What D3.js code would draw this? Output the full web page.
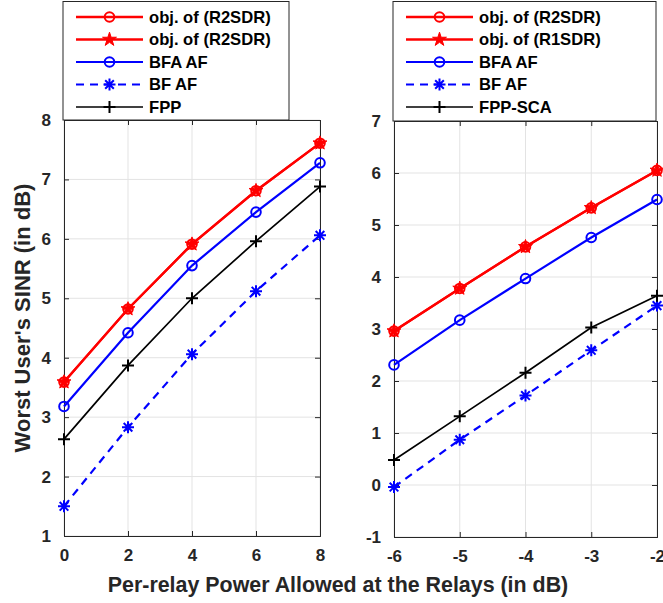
<!DOCTYPE html>
<html><head><meta charset="utf-8">
<script src="https://cdn.jsdelivr.net/npm/d3@7"></script>
<style>body{margin:0;background:#fff}svg{display:block;font-family:"Liberation Sans",Arial,sans-serif;font-weight:bold}</style>
</head><body><svg id="c" width="663" height="603"></svg>
<script>
// ---- data ----
const leftX = [0, 2, 4, 6, 8];
const leftR2SDR = [3.59, 4.82, 5.91, 6.81, 7.61];
const leftR2SDRstar = [3.59, 4.82, 5.91, 6.81, 7.61];
const leftBFA = [3.18, 4.42, 5.55, 6.45, 7.28];
const leftBF = [1.50, 2.83, 4.06, 5.12, 6.06];
const leftFPP = [2.63, 3.87, 5.00, 5.96, 6.88];
const leftYTicks = [1, 2, 3, 4, 5, 6, 7, 8];
const leftLabels = ["obj. of (R2SDR)", "obj. of (R2SDR)", "BFA AF", "BF AF", "FPP"];

const rightX = [-6, -5, -4, -3, -2];
const rightR2SDR = [2.96, 3.78, 4.58, 5.33, 6.05];
const rightR1SDR = [2.96, 3.78, 4.58, 5.33, 6.05];
const rightBFA = [2.31, 3.17, 3.97, 4.76, 5.49];
const rightBF = [-0.04, 0.87, 1.72, 2.59, 3.45];
const rightFPP = [0.48, 1.32, 2.16, 3.03, 3.64];
const rightYTicks = [-1, 0, 1, 2, 3, 4, 5, 6, 7];
const rightLabels = ["obj. of (R2SDR)", "obj. of (R1SDR)", "BFA AF", "BF AF", "FPP-SCA"];

const xLabel = "Per-relay Power Allowed at the Relays (in dB)";
const yLabel = "Worst User's SINR (in dB)";

// ---- styles ----
const styles = [
  {color: "#ff0000", marker: "circle", width: 2.3, dash: null},
  {color: "#ff0000", marker: "star", width: 2.3, dash: null},
  {color: "#0000ff", marker: "circle", width: 2.2, dash: null},
  {color: "#0000ff", marker: "asterisk", width: 2.2, dash: "8,6"},
  {color: "#000000", marker: "plus", width: 1.7, dash: null}
];
const axisColor = "#262626";
const svg = d3.select("#c");
const fmt = d => String(d);

function drawMarker(g, type, cx, cy, color) {
  if (type === "circle") {
    g.append("circle").attr("cx", cx).attr("cy", cy).attr("r", 4.8)
      .attr("fill", "none").attr("stroke", color).attr("stroke-width", 2);
  } else if (type === "star") {
    g.append("path").attr("d", d3.symbol(d3.symbolStar, 60)())
      .attr("transform", `translate(${cx},${cy})`)
      .attr("fill", color).attr("stroke", color).attr("stroke-width", 1);
  } else if (type === "plus") {
    const r = 6;
    g.append("path").attr("d", `M${cx-r},${cy}H${cx+r}M${cx},${cy-r}V${cy+r}`)
      .attr("stroke", color).attr("stroke-width", 2);
  } else if (type === "asterisk") {
    const r = 6, d = r * 0.72;
    g.append("path").attr("d", `M${cx-r},${cy}H${cx+r}M${cx},${cy-r}V${cy+r}M${cx-d},${cy-d}L${cx+d},${cy+d}M${cx-d},${cy+d}L${cx+d},${cy-d}`)
      .attr("stroke", color).attr("stroke-width", 2);
  }
}

function panel(cfg) {
  const x = d3.scaleLinear().domain(cfg.xDomain).range([cfg.left, cfg.right]);
  const y = d3.scaleLinear().domain(cfg.yDomain).range([cfg.bottom, cfg.top]);
  const g = svg.append("g");
  g.selectAll(".gx").data(cfg.xTicks).enter().append("line")
    .attr("x1", d => x(d)).attr("x2", d => x(d)).attr("y1", cfg.top).attr("y2", cfg.bottom)
    .attr("stroke", "#e3e3e3").attr("stroke-width", 1);
  g.selectAll(".gy").data(cfg.yTicks).enter().append("line")
    .attr("y1", d => y(d)).attr("y2", d => y(d)).attr("x1", cfg.left).attr("x2", cfg.right)
    .attr("stroke", "#e3e3e3").attr("stroke-width", 1);
  const ax = g.append("g").attr("transform", `translate(0,${cfg.bottom})`)
    .call(d3.axisBottom(x).tickValues(cfg.xTicks).tickSize(-5).tickPadding(13).tickFormat(fmt));
  const axT = g.append("g").attr("transform", `translate(0,${cfg.top})`)
    .call(d3.axisTop(x).tickValues(cfg.xTicks).tickSize(-5).tickFormat(""));
  const ay = g.append("g").attr("transform", `translate(${cfg.left},0)`)
    .call(d3.axisLeft(y).tickValues(cfg.yTicks).tickSize(-5).tickPadding(13).tickFormat(fmt));
  const ayR = g.append("g").attr("transform", `translate(${cfg.right},0)`)
    .call(d3.axisRight(y).tickValues(cfg.yTicks).tickSize(-5).tickFormat(""));
  [ax, axT, ay, ayR].forEach(a => {
    a.select(".domain").attr("stroke", axisColor).attr("stroke-width", 1);
    a.selectAll(".tick line").attr("stroke", axisColor).attr("stroke-width", 1);
    a.selectAll("text").attr("fill", axisColor).style("font-size", "17px")
      .style("font-family", '"Liberation Sans",Arial,sans-serif').style("font-weight", "bold");
  });
  ax.selectAll("text").attr("dy", "0.71em");
  const line = d3.line().x(d => x(d[0])).y(d => y(d[1]));
  cfg.series.forEach((vals, i) => {
    const st = styles[i];
    const pts = cfg.xs.map((xv, j) => [xv, vals[j]]);
    g.append("path").attr("d", line(pts)).attr("fill", "none")
      .attr("stroke", st.color).attr("stroke-width", st.width)
      .attr("stroke-dasharray", st.dash);
    pts.forEach(p => drawMarker(g, st.marker, x(p[0]), y(p[1]), st.color));
  });
  const lg = svg.append("g");
  lg.append("rect").attr("x", cfg.legX).attr("y", 1.5).attr("width", cfg.legW).attr("height", cfg.top - 1.5)
    .attr("fill", "#fff").attr("stroke", axisColor).attr("stroke-width", 1);
  cfg.labels.forEach((lab, i) => {
    const st = styles[i];
    const ly = 17 + i * 22.5;
    lg.append("line").attr("x1", cfg.legX + 13).attr("x2", cfg.legX + 80).attr("y1", ly).attr("y2", ly)
      .attr("stroke", st.color).attr("stroke-width", st.width).attr("stroke-dasharray", st.dash);
    drawMarker(lg, st.marker, cfg.legX + 46.5, ly, st.color);
    lg.append("text").attr("x", cfg.legX + 86).attr("y", ly).attr("dy", "0.36em")
      .attr("fill", "#000").style("font-size", "16.6px").text(lab);
  });
}

panel({xDomain: [0, 8], yDomain: [1, 8], left: 64, right: 320, top: 120, bottom: 536,
  xTicks: leftX, yTicks: leftYTicks, xs: leftX,
  series: [leftR2SDR, leftR2SDRstar, leftBFA, leftBF, leftFPP], labels: leftLabels, legX: 63, legW: 226});
panel({xDomain: [-6, -2], yDomain: [-1, 7], left: 394, right: 657, top: 121, bottom: 537,
  xTicks: rightX, yTicks: rightYTicks, xs: rightX,
  series: [rightR2SDR, rightR1SDR, rightBFA, rightBF, rightFPP], labels: rightLabels, legX: 393, legW: 263});

svg.append("text").attr("x", 338).attr("y", 592).attr("text-anchor", "middle")
  .attr("fill", axisColor).style("font-size", "21.4px").text(xLabel);
svg.append("text").attr("transform", "translate(30,318) rotate(-90)").attr("text-anchor", "middle")
  .attr("fill", axisColor).style("font-size", "22px").text(yLabel);
</script></body></html>
